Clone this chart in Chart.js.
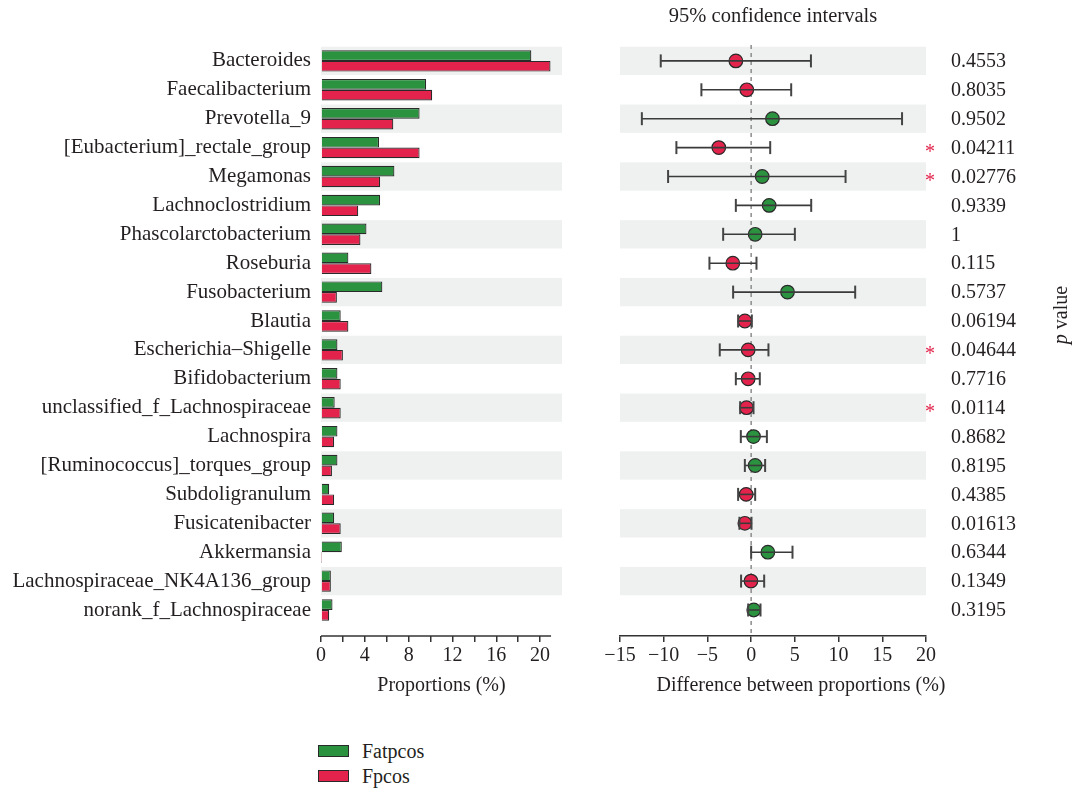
<!DOCTYPE html>
<html>
<head>
<meta charset="utf-8">
<script src="https://cdn.jsdelivr.net/npm/chart.js@4.4.1/dist/chart.umd.min.js"></script>
<style>
  body { margin: 0; background: #fff; width: 1076px; height: 789px; position: relative; overflow: hidden;
         font-family: "Liberation Serif", serif; color: #231f20; }
  #left { position: absolute; left: 0; top: 0; }
  #right { position: absolute; left: 570px; top: 0; }
  .leg { position: absolute; left: 318px; height: 24px; display: flex; align-items: center; font-size: 20px; }
  .leg span { display: inline-block; width: 29px; height: 10px; border: 1px solid #2a2a2a; margin-right: 13px; }
</style>
</head>
<body>
<canvas id="left" width="570" height="698"></canvas>
<canvas id="right" width="506" height="698"></canvas>
<div class="leg" style="top:739px"><span style="background:#2b9240"></span>Fatpcos</div>
<div class="leg" style="top:764px"><span style="background:#e3234b"></span>Fpcos</div>

<script>
// genera, top to bottom
const genera = ['Bacteroides', 'Faecalibacterium', 'Prevotella_9', '[Eubacterium]_rectale_group', 'Megamonas',
  'Lachnoclostridium', 'Phascolarctobacterium', 'Roseburia', 'Fusobacterium', 'Blautia', 'Escherichia\u2013Shigelle',
  'Bifidobacterium', 'unclassified_f_Lachnospiraceae', 'Lachnospira', '[Ruminococcus]_torques_group',
  'Subdoligranulum', 'Fusicatenibacter', 'Akkermansia', 'Lachnospiraceae_NK4A136_group', 'norank_f_Lachnospiraceae'];

// mean proportions (%)
const fatpcos = [19.2, 9.6, 9.0, 5.3, 6.7, 5.4, 4.15, 2.5, 5.6, 1.8, 1.5, 1.5, 1.25, 1.5, 1.5, 0.75, 1.2, 1.9, 0.9, 1.05];
const fpcos = [20.95, 10.15, 6.6, 9.0, 5.4, 3.4, 3.6, 4.6, 1.45, 2.5, 2.0, 1.8, 1.8, 1.2, 1.0, 1.2, 1.8, 0.02, 0.9, 0.75];

// difference between proportions and 95% CI
const diff = [-1.75, -0.5, 2.44, -3.7, 1.26, 2.06, 0.46, -2.1, 4.16, -0.72, -0.34, -0.34, -0.53, 0.27, 0.46, -0.57, -0.72, 1.91, -0.02, 0.3];
const ciLow = [-10.34, -5.69, -12.5, -8.55, -9.5, -1.75, -3.2, -4.77, -2.06, -1.49, -3.59, -1.75, -1.26, -1.18, -0.72, -1.49, -1.34, 0.0, -1.15, -0.34];
const ciHigh = [6.84, 4.58, 17.26, 2.18, 10.8, 6.87, 5.0, 0.61, 11.9, 0.08, 1.98, 0.99, 0.27, 1.8, 1.6, 0.46, 0.04, 4.73, 1.49, 1.07];

const pValues = ['0.4553', '0.8035', '0.9502', '0.04211', '0.02776', '0.9339', '1', '0.115', '0.5737', '0.06194',
  '0.04644', '0.7716', '0.0114', '0.8682', '0.8195', '0.4385', '0.01613', '0.6344', '0.1349', '0.3195'];
const starred = [false, false, false, true, true, false, false, false, false, false,
  true, false, true, false, false, false, false, false, false, false];

const propTicks = [0, 2, 4, 6, 8, 10, 12, 14, 16, 18, 20];
const diffTicks = [-15, -10, -5, 0, 5, 10, 15, 20];

const GREEN = '#2b9240';
const RED = '#e3234b';
const BAND = '#eff0f0';
const INK = '#231f20';

Chart.defaults.font.family = '"Liberation Serif", serif';
Chart.defaults.font.size = 20;
Chart.defaults.color = INK;

// rows share the same linear scale in both panels (no bar offset)
const rowScale = {
  type: 'linear', reverse: true, min: -0.55, max: 19.9, offset: false,
};

// alternating grey bands behind every other row
const bands = {
  id: 'bands',
  beforeDatasetsDraw(chart) {
    const { ctx, chartArea, scales: { y } } = chart;
    ctx.save();
    ctx.fillStyle = BAND;
    genera.forEach((g, i) => {
      if (i % 2) return;
      const t = y.getPixelForValue(i - 0.49);
      const b = y.getPixelForValue(i + 0.49);
      ctx.fillRect(chartArea.left, t, chartArea.right - chartArea.left, b - t);
    });
    ctx.restore();
  }
};

const leftAxisLine = {
  id: 'leftAxisLine',
  afterDraw(chart) {
    const { ctx, chartArea, scales: { x } } = chart;
    ctx.save();
    ctx.strokeStyle = '#333';
    ctx.lineWidth = 1.5;
    ctx.beginPath();
    ctx.moveTo(x.getPixelForValue(0), chartArea.bottom);
    ctx.lineTo(x.getPixelForValue(21), chartArea.bottom);
    ctx.stroke();
    ctx.restore();
  }
};

new Chart(document.getElementById('left'), {
  type: 'bar',
  data: {
    datasets: [
      { label: 'Fatpcos', data: fatpcos.map((v, i) => ({ x: v, y: i })), backgroundColor: GREEN,
        borderColor: '#2a2a2a', borderWidth: 1.2 },
      { label: 'Fpcos', data: fpcos.map((v, i) => ({ x: v, y: i })), backgroundColor: RED,
        borderColor: '#2a2a2a', borderWidth: 1.2 }
    ]
  },
  options: {
    indexAxis: 'y',
    responsive: false,
    animation: false,
    layout: { padding: { top: 45, right: 8, left: 0, bottom: 0 } },
    datasets: { bar: { barPercentage: 1, categoryPercentage: 0.74 } },
    plugins: { legend: { display: false }, tooltip: { enabled: false } },
    scales: {
      y: {
        ...rowScale,
        grid: { display: false, drawTicks: false },
        border: { display: false },
        afterFit: s => { s.width = 321; },
        afterBuildTicks: s => { s.ticks = genera.map((g, i) => ({ value: i })); },
        ticks: { font: { size: 21 }, padding: 10, callback: v => genera[v] }
      },
      x: {
        type: 'linear', min: 0, max: 22,
        afterFit: s => { s.height = 62; },
        afterBuildTicks: s => { s.ticks = propTicks.map(v => ({ value: v })); },
        grid: { drawOnChartArea: false, drawTicks: true, tickLength: 6, color: '#333', lineWidth: 1.5 },
        border: { display: false },
        ticks: { padding: 2, maxRotation: 0, callback: v => (v % 4 === 0 ? String(v) : '') },
        title: { display: true, text: 'Proportions (%)', font: { size: 20 }, padding: 0 }
      }
    }
  },
  plugins: [bands, leftAxisLine]
});

// texts around the confidence-interval panel
const ciTexts = {
  id: 'ciTexts',
  afterDraw(chart) {
    const { ctx, chartArea, scales: { y } } = chart;
    ctx.save();
    ctx.fillStyle = INK;
    ctx.textBaseline = 'middle';
    ctx.font = '20.5px "Liberation Serif"';
    ctx.textAlign = 'center';
    ctx.fillText('95% confidence intervals', (chartArea.left + chartArea.right) / 2, 17);
    ctx.font = '20px "Liberation Serif"';
    ctx.fillText('Difference between proportions (%)', 231, 686);
    ctx.textAlign = 'left';
    pValues.forEach((p, i) => {
      ctx.fillText(p, chartArea.right + 25, y.getPixelForValue(i) + 1);
    });
    ctx.fillStyle = RED;
    ctx.textAlign = 'center';
    starred.forEach((s, i) => {
      if (s) ctx.fillText('*', chartArea.right + 4, y.getPixelForValue(i) + 5);
    });
    // rotated "p value"
    ctx.fillStyle = INK;
    ctx.translate(492, 315);
    ctx.rotate(-Math.PI / 2);
    ctx.font = 'italic 20px "Liberation Serif"';
    const pw = ctx.measureText('p').width;
    ctx.font = '20px "Liberation Serif"';
    const vw = ctx.measureText(' value').width;
    ctx.textAlign = 'left';
    ctx.font = 'italic 20px "Liberation Serif"';
    ctx.fillText('p', -(pw + vw) / 2, 0);
    ctx.font = '20px "Liberation Serif"';
    ctx.fillText(' value', -(pw + vw) / 2 + pw, 0);
    ctx.restore();
  }
};

const errorBars = ciLow.map((lo, i) => ({
  type: 'line',
  data: [{ x: lo, y: i }, { x: ciHigh[i], y: i }],
  showLine: true,
  borderColor: '#3a3a3a',
  borderWidth: 1.6,
  pointStyle: 'line',
  rotation: 90,
  pointRadius: 6.5,
  pointBorderColor: '#444',
  pointBorderWidth: 2,
  clip: false
}));

new Chart(document.getElementById('right'), {
  type: 'scatter',
  data: {
    datasets: [
      ...errorBars,
      {
        data: diff.map((d, i) => ({ x: d, y: i })),
        pointBackgroundColor: diff.map(d => (d > 0 ? GREEN : RED)),
        pointBorderColor: '#2a2a2a',
        pointBorderWidth: 1.2,
        pointRadius: 6.8
      },
      {
        type: 'line',
        data: [{ x: 0, y: -0.55 }, { x: 0, y: 19.9 }],
        showLine: true,
        borderColor: '#8c8c8c',
        borderWidth: 1.5,
        borderDash: [4, 4],
        pointRadius: 0,
        clip: false
      }
    ]
  },
  options: {
    responsive: false,
    animation: false,
    layout: { padding: { top: 45, left: 50, right: 150, bottom: 0 } },
    plugins: { legend: { display: false }, tooltip: { enabled: false } },
    scales: {
      y: { ...rowScale, display: false },
      x: {
        type: 'linear', min: -15, max: 20,
        afterFit: s => { s.height = 62; },
        afterBuildTicks: s => { s.ticks = diffTicks.map(v => ({ value: v })); },
        grid: { drawOnChartArea: false, drawTicks: true, tickLength: 6, color: '#333', lineWidth: 1.5 },
        border: { display: true, color: '#333', width: 1.5 },
        ticks: { padding: 2, maxRotation: 0, callback: v => (v < 0 ? '\u2212' + Math.abs(v) : String(v)) }
      }
    }
  },
  plugins: [bands, ciTexts]
});
</script>
</body>
</html>
